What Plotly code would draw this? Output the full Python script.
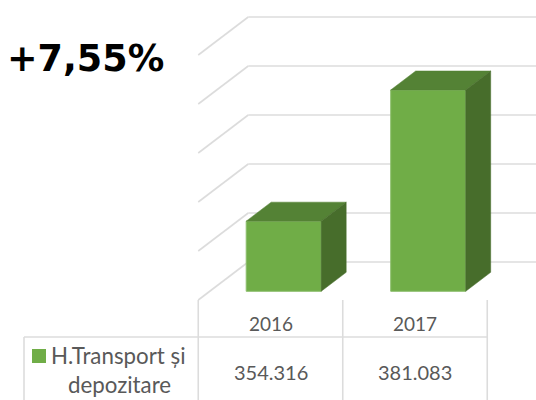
import plotly.graph_objects as go

categories = ["2016", "2017"]
values = [354316, 381083]
value_labels = ["354.316", "381.083"]
grid_values = [340000, 350000, 360000, 370000, 380000, 390000]
series_name = ["H.Transport și", "depozitare"]
headline = "+7,55%"

W, H = 536, 400
PX_PER_UNIT_Y = 49 / 10000      # pixels per value unit
PX_PER_CAT = 144.5
CAT0_PX = 270.5                 # front-plane centre of first category
BASE_PX = 300                   # pixel row of the lowest gridline (front plane)
DEPTH_X, DEPTH_Y = 50, 38       # oblique projection of full floor depth, px
BAR_PX = 75
BAR_D0, BAR_D1 = 0.25, 0.75     # bar extent inside the floor depth
BAR_NUDGE_X, BAR_NUDGE_Y = 0.7, -0.8

ux = 1 / PX_PER_CAT
uy = 1 / PX_PER_UNIT_Y
vmin = grid_values[0]
x_range = [-CAT0_PX * ux, (W - CAT0_PX) * ux]
y_range = [vmin - (H - BASE_PX) * uy, vmin + BASE_PX * uy]

def dx(d):
    return d * DEPTH_X * ux

def dy(d):
    return d * DEPTH_Y * uy

GRID = "#dcdcdc"
FRONT = "#70AD47"
TOP = "#548235"
SIDE = "#476D2B"
TEXT = "#595959"
FONT = "Lato, Open Sans, sans-serif"

fig = go.Figure()
shapes = []

def line(x0, y0, x1, y1, ref="x", w=1.6):
    yref = "y" if ref == "x" else "paper"
    xref = "x" if ref == "x" else "paper"
    shapes.append(dict(type="line", xref=xref, yref=yref, x0=x0, y0=y0, x1=x1, y1=y1,
                       line=dict(color=GRID, width=w), layer="below"))

left = -0.5
right = len(categories) - 0.5
for g in grid_values:
    line(left, g, left + dx(1), g + dy(1))
    line(left + dx(1), g + dy(1), right + dx(1) + 0.01, g + dy(1))

half = BAR_PX / 2 * ux
shift_x = dx(BAR_D0) + BAR_NUDGE_X * ux
shift_y = dy(BAR_D0) + BAR_NUDGE_Y * uy
fig.add_trace(go.Bar(
    x=[i + shift_x for i in range(len(categories))],
    y=[v - vmin for v in values],
    base=[vmin + shift_y] * len(values),
    width=2 * half,
    marker=dict(color=FRONT, line=dict(color="#8DBE6D", width=1)),
    showlegend=False, hoverinfo="skip",
))
depth = BAR_D1 - BAR_D0
for i, v in enumerate(values):
    xl = i + shift_x - half
    xr = i + shift_x + half
    yb = vmin + shift_y
    yt = v + shift_y
    fig.add_trace(go.Scatter(
        x=[xl, xr, xr + dx(depth), xl + dx(depth), xl],
        y=[yt, yt, yt + dy(depth), yt + dy(depth), yt],
        mode="lines", fill="toself", fillcolor=TOP, line=dict(color=TOP, width=0.5),
        showlegend=False, hoverinfo="skip"))
    fig.add_trace(go.Scatter(
        x=[xr, xr + dx(depth), xr + dx(depth), xr, xr],
        y=[yt, yt + dy(depth), yb + dy(depth), yb, yt],
        mode="lines", fill="toself", fillcolor=SIDE, line=dict(color=SIDE, width=0.5),
        showlegend=False, hoverinfo="skip"))

def px(x):
    return x / W

def py(y):
    return 1 - y / H

for c in range(len(categories) + 1):
    x = c - 0.5
    line(x, vmin, x, y_range[0])
line(px(24), py(337), px(487), py(337), ref="paper")
line(px(24), py(337), px(24), py(400), ref="paper")

annotations = []
for i, c in enumerate(categories):
    annotations.append(dict(x=i, y=py(323), xref="x", yref="paper", text=c, showarrow=False,
                            font=dict(family=FONT, size=19, color=TEXT), xanchor="center", yanchor="middle"))
    annotations.append(dict(x=i, y=py(372), xref="x", yref="paper", text=value_labels[i], showarrow=False,
                            font=dict(family=FONT, size=20, color=TEXT), xanchor="center", yanchor="middle"))
annotations.append(dict(x=px(188), y=py(355), xref="paper", yref="paper", text=series_name[0], showarrow=False,
                        font=dict(family=FONT, size=22.3, color=TEXT), xanchor="right", yanchor="middle"))
annotations.append(dict(x=px(119), y=py(384), xref="paper", yref="paper", text=series_name[1], showarrow=False,
                        font=dict(family=FONT, size=22.3, color=TEXT), xanchor="center", yanchor="middle"))
annotations.append(dict(x=px(5), y=py(59), xref="paper", yref="paper", text="<b>%s</b>" % headline, showarrow=False,
                        font=dict(family="DejaVu Sans", size=36.5, color="#000000"), xanchor="left", yanchor="middle"))

shapes.append(dict(type="rect", xref="paper", yref="paper", x0=px(32), x1=px(46), y0=py(349), y1=py(363),
                   fillcolor=FRONT, line=dict(width=0)))

fig.update_layout(
    width=W, height=H, autosize=False,
    margin=dict(l=0, r=0, t=0, b=0),
    paper_bgcolor="white", plot_bgcolor="white",
    xaxis=dict(range=x_range, visible=False, fixedrange=True),
    yaxis=dict(range=y_range, visible=False, fixedrange=True),
    shapes=shapes, annotations=annotations, showlegend=False,
)
fig.write_html("out.html", config=dict(displayModeBar=False),
               post_script="document.body.style.margin='0';document.body.style.overflow='hidden';")
